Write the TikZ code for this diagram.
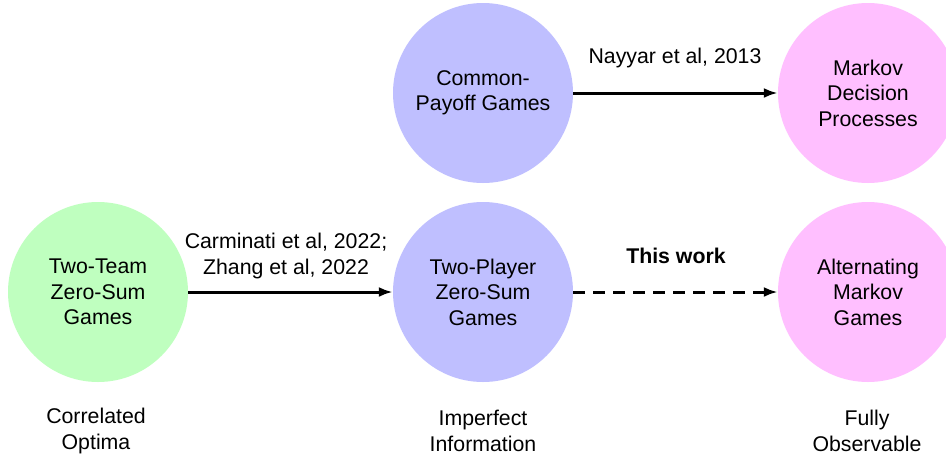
\documentclass[tikz,border=0pt]{standalone}
\usepackage{fontspec}
\setmainfont{Liberation Sans}
\usetikzlibrary{arrows.meta}
\definecolor{cblue}{HTML}{BFBFFF}
\definecolor{cgreen}{HTML}{BFFFBF}
\definecolor{cpink}{HTML}{FFBFFF}
\begin{document}
\begin{tikzpicture}[x=1pt,y=-1pt,
  game/.style={circle,minimum size=180pt,inner sep=0pt,align=center,
    font=\fontsize{21.3}{25.5}\selectfont},
  lbl/.style={align=center,inner sep=0pt,font=\fontsize{21.3}{25.5}\selectfont},
  conn/.style={line width=3pt,-{Latex[length=14pt,width=10pt]}},
  dashconn/.style={conn,dash pattern=on 12pt off 8pt}]
\clip (0,0) rectangle (946,456);
\fill[white] (0,0) rectangle (946,456);
\node[game,fill=cblue] (cp) at (483,93) {Common-\\Payoff Games};
\node[game,fill=cpink] (mdp) at (868,93) {Markov\\Decision\\Processes};
\node[game,fill=cgreen] (tt) at (98,292) {Two-Team\\Zero-Sum\\Games};
\node[game,fill=cblue] (tp) at (483,292) {Two-Player\\Zero-Sum\\Games};
\node[game,fill=cpink] (amg) at (868,292) {Alternating\\Markov\\Games};
\draw[conn] (cp) -- (mdp);
\draw[conn] (tt) -- (tp);
\draw[dashconn] (tp) -- (amg);
\node[lbl] (l1) at (675,58) {Nayyar et al, 2013};
\node[lbl] (l2) at (286,256) {Carminati et al, 2022;\\Zhang et al, 2022};
\node[lbl,font=\fontsize{21.3}{25.5}\selectfont\bfseries] (l3) at (676,256) {This work};
\node[lbl] (b1) at (96,431) {Correlated\\Optima};
\node[lbl] (b2) at (483,431) {Imperfect\\Information};
\node[lbl] (b3) at (867,431) {Fully\\Observable};
\end{tikzpicture}
\end{document}
